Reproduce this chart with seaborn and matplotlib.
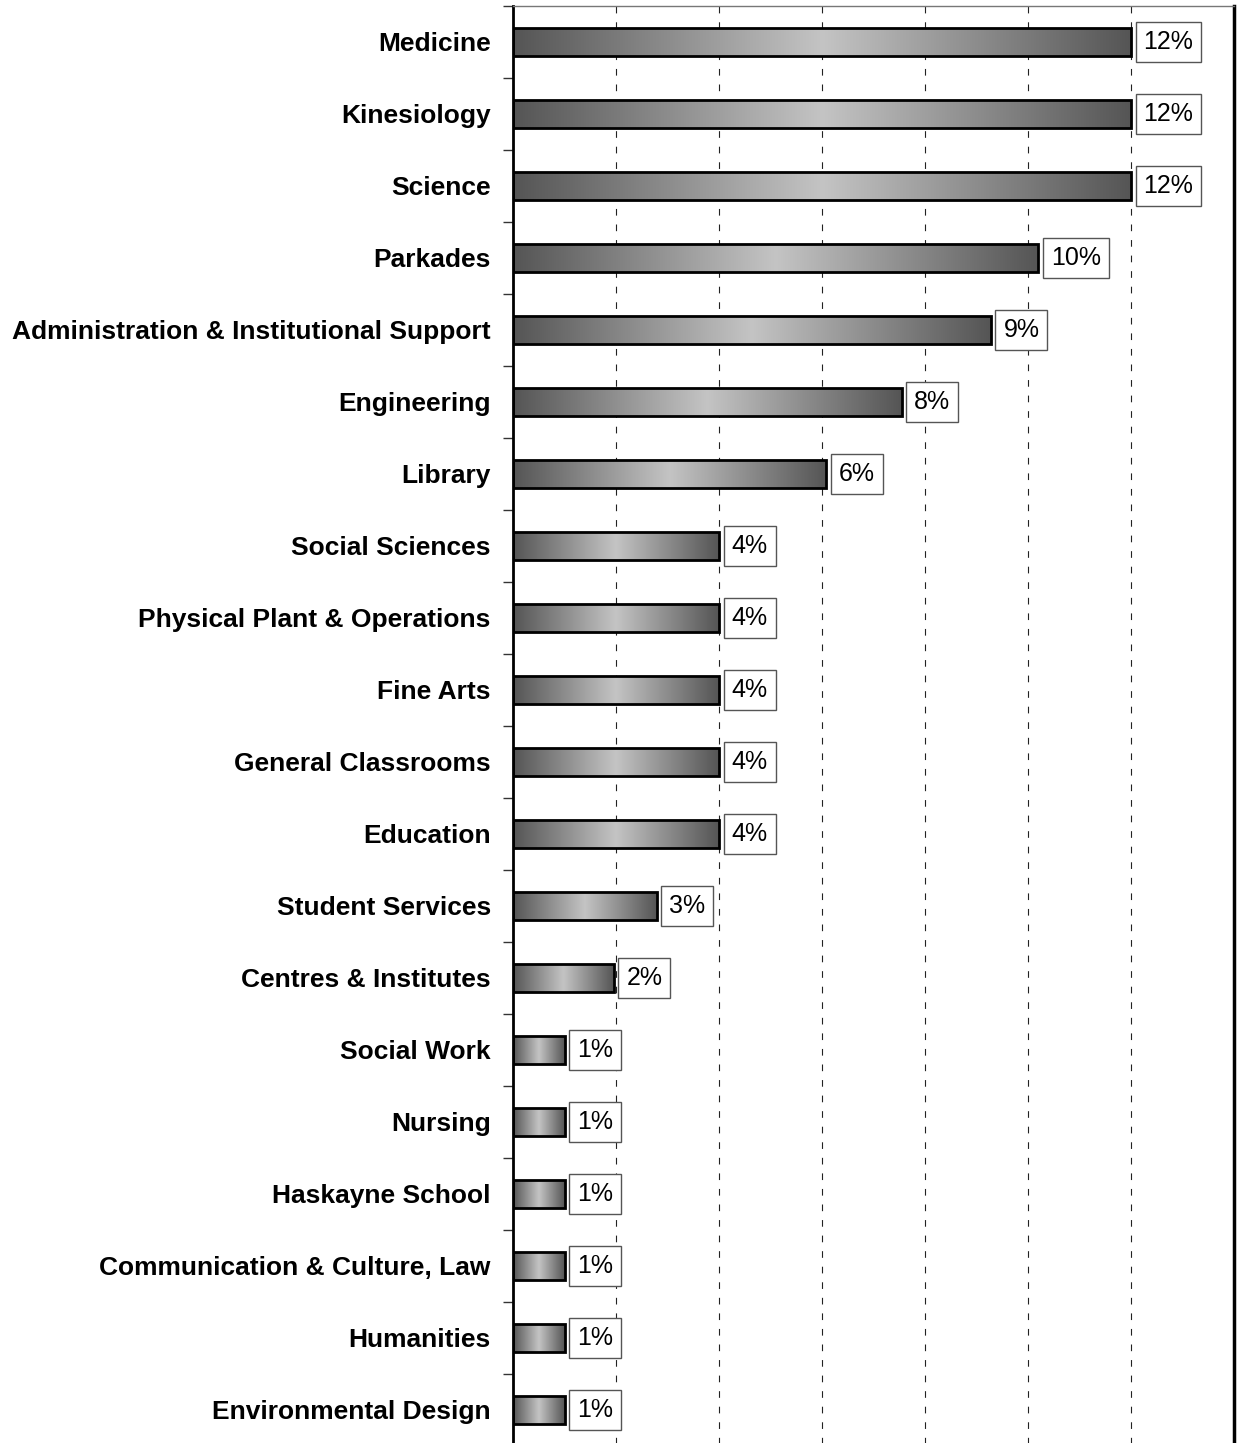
import numpy as np
import pandas as pd
import matplotlib
matplotlib.use("Agg")
import matplotlib.pyplot as plt
import seaborn as sns
from matplotlib.colors import LinearSegmentedColormap

# -------------------- data --------------------
categories = [
    "Medicine", "Kinesiology", "Science", "Parkades",
    "Administration & Institutional Support", "Engineering", "Library",
    "Social Sciences", "Physical Plant & Operations", "Fine Arts",
    "General Classrooms", "Education", "Student Services",
    "Centres & Institutes", "Social Work", "Nursing", "Haskayne School",
    "Communication & Culture, Law", "Humanities", "Environmental Design",
]
shares = [12.0, 12.0, 12.0, 10.2, 9.28, 7.55, 6.08, 4.0, 4.0, 4.0,
          4.0, 4.0, 2.79, 1.96, 1.0, 1.0, 1.0, 1.0, 1.0, 1.0]
value_labels = [f"{v:.0f}%" for v in shares]

df = pd.DataFrame({"category": categories, "share": shares})

# -------------------- plot --------------------
sns.set_style("white")
plt.rcParams["font.family"] = ["Liberation Sans", "DejaVu Sans"]
plt.rcParams["text.color"] = "black"
plt.rcParams["ytick.labelcolor"] = "black"

fig = plt.figure(figsize=(12.38, 14.43), dpi=100)
ax = fig.add_axes([513 / 1238, -3 / 1443, 721 / 1238, 1440 / 1443])

sns.barplot(data=df, x="share", y="category", orient="h", width=0.38,
            color="white", edgecolor="black", linewidth=2, ax=ax, zorder=3)

# gradient fill: dark at both ends, light in the middle
cmap = LinearSegmentedColormap.from_list("bar", ["#555555", "#c4c4c4", "#555555"])
grad = np.linspace(0, 1, 256).reshape(1, -1)
for patch in ax.patches:
    x0, y0 = patch.get_x(), patch.get_y()
    w, h = patch.get_width(), patch.get_height()
    patch.set_facecolor("none")
    im = ax.imshow(grad, cmap=cmap, aspect="auto", extent=[x0, x0 + w, y0 + h, y0],
                   zorder=2, interpolation="bicubic")
    im.set_clip_path(patch)

# boxed value labels
for i, (v, lab) in enumerate(zip(shares, value_labels)):
    ax.annotate(lab, xy=(v, i), xytext=(9, 0), textcoords="offset points",
                ha="left", va="center", fontsize=18, color="black", zorder=5,
                bbox=dict(boxstyle="square,pad=0.32", facecolor="white",
                          edgecolor="#555555", linewidth=1))

ax.set_xlim(0, 14)
ax.set_ylim(len(categories) - 0.5, -0.5)

ax.set_xticks(np.arange(0, 15, 2))
ax.set_xticklabels([])
ax.tick_params(axis="x", length=0)
ax.grid(axis="x", color="#222222", linestyle=(0, (6, 8)), linewidth=0.8, zorder=1)
ax.grid(axis="y", visible=False)

ax.set_yticks(range(len(categories)))
ax.set_yticklabels(categories, fontsize=19, fontweight="bold", color="black")
ax.set_yticks(np.arange(-0.5, len(categories), 1), minor=True)
ax.tick_params(axis="y", which="major", length=0, pad=16)
ax.tick_params(axis="y", which="minor", length=7, width=1, color="#333333",
               direction="out", left=True)
ax.set_xlabel("")
ax.set_ylabel("")

ax.spines["left"].set_linewidth(2)
ax.spines["left"].set_color("black")
ax.spines["right"].set_linewidth(2.5)
ax.spines["right"].set_color("black")
ax.spines["top"].set_linewidth(1)
ax.spines["top"].set_color("#777777")
ax.spines["bottom"].set_visible(False)

fig.savefig("out.png", dpi=100)
